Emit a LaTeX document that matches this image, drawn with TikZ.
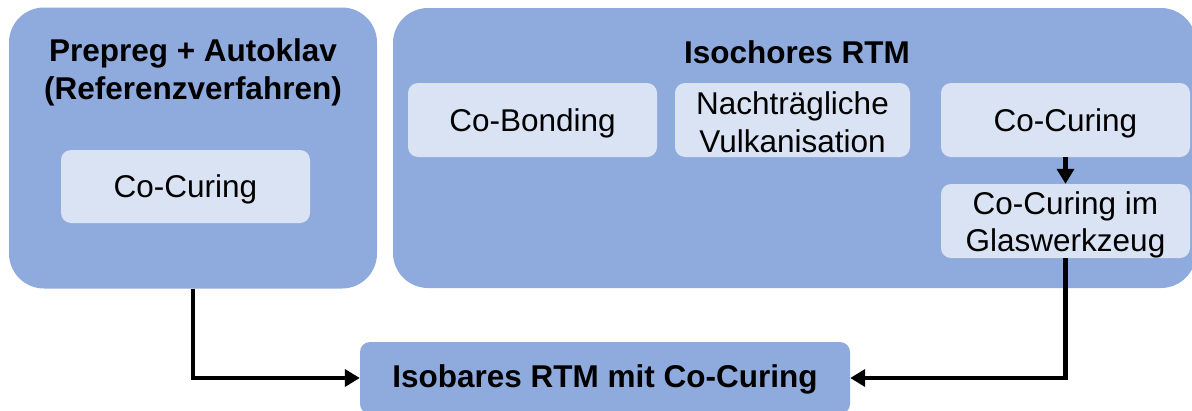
\documentclass[tikz,border=0pt]{standalone}
\usepackage{fontspec}
\setmainfont{Liberation Sans}
\usetikzlibrary{arrows.meta}
\definecolor{outerblue}{HTML}{8FAADC}
\definecolor{innerblue}{HTML}{DAE3F3}
\begin{document}
\begin{tikzpicture}[x=1pt,y=-1pt,
  outerbox/.style={draw=none,fill=outerblue,rounded corners=35pt,inner sep=0pt},
  innerbox/.style={draw=none,fill=innerblue,rounded corners=10pt,inner sep=0pt},
  intext/.style={align=center,inner sep=0pt,font=\fontsize{31.5}{37.5}\selectfont},
  title/.style={align=center,inner sep=0pt,font=\fontsize{31.5}{38}\selectfont\bfseries},
  arr/.style={line width=4.5pt,-{Triangle[length=15pt,width=17pt]}}]
\useasboundingbox (0,0) rectangle (1192,410);
\node[outerbox,minimum width=368pt,minimum height=281pt] (left) at (193,148) {};
\node[outerbox,minimum width=803pt,minimum height=280pt] (right) at (794.5,148) {};
\node[title] (lefttitle) at (193,72) {Prepreg + Autoklav\\(Referenzverfahren)};
\node[title] (righttitle) at (797,52) {Isochores RTM};
\node[innerbox,minimum width=249pt,minimum height=73pt] (leftco) at (185.5,186.5) {};
\node[intext] (leftcot) at (185.5,189) {Co-Curing};
\node[innerbox,minimum width=249pt,minimum height=74pt] (cobond) at (532.5,120) {};
\node[intext] (cobondt) at (532.5,123) {Co-Bonding};
\node[innerbox,minimum width=235pt,minimum height=74pt] (nach) at (792.5,120) {};
\node[intext] (nacht) at (792.5,122) {Nachträgliche\\Vulkanisation};
\node[innerbox,minimum width=249pt,minimum height=74pt] (cocur) at (1065.5,120) {};
\node[intext] (cocurt) at (1065.5,123) {Co-Curing};
\node[innerbox,minimum width=249pt,minimum height=74pt] (glas) at (1065.5,221) {};
\node[intext] (glast) at (1065.5,225) {Co-Curing im\\Glaswerkzeug};
\node[fill=outerblue,rounded corners=10pt,inner sep=0pt,minimum width=490pt,minimum height=72pt] (iso) at (605,378) {};
\node[title] (isot) at (605,379) {Isobares RTM mit Co-Curing};
\draw[arr] (cocur.south) -- (glas.north);
\draw[arr] (left.south) |- (iso.west);
\draw[arr] (glas.south) |- (iso.east);
\end{tikzpicture}
\end{document}
